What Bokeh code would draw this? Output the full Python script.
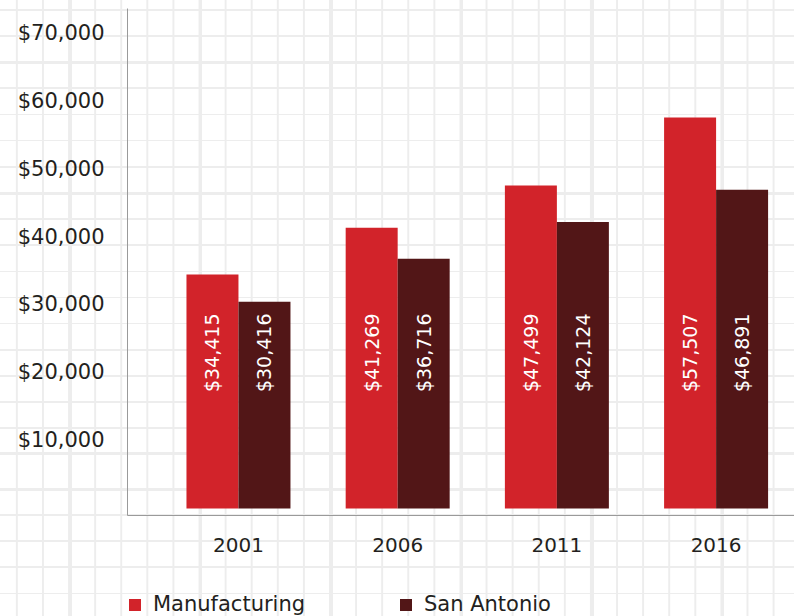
import numpy as np
from bokeh.plotting import figure
from bokeh.layouts import column
from bokeh.models import (Range1d, FixedTicker, Legend, LegendItem, ColumnDataSource,
                          NumeralTickFormatter)
from bokeh.transform import dodge
from bokeh.core.properties import value
from bokeh.embed import file_html
from bokeh.resources import INLINE

# ---- data ----
years = ["2001", "2006", "2011", "2016"]
manufacturing = [34415, 41269, 47499, 57507]
san_antonio = [30416, 36716, 42124, 46891]
series_names = ["Manufacturing", "San Antonio"]
y_ticks = [10000, 20000, 30000, 40000, 50000, 60000, 70000]

# ---- style ----
RED = "#D2232A"
MAROON = "#521617"
FONT = "DejaVu Sans"
TXT = "#231f20"
AXIS = "#9a9a9a"
OFF = 0.1633
BW = 0.3266
LABEL_Y = 22900

x = list(range(len(years)))
src = ColumnDataSource(dict(
    x=x, m=manufacturing, s=san_antonio,
    mlab=[f"${v:,}" for v in manufacturing],
    slab=[f"${v:,}" for v in san_antonio],
))

p = figure(width=794, height=585, output_backend="svg", toolbar_location=None,
           x_range=Range1d(-0.697, 3.4925), y_range=Range1d(-1030, 73530),
           min_border_left=127, min_border_right=0, min_border_top=8,
           min_border_bottom=70)
p.background_fill_color = None
p.border_fill_color = None
p.outline_line_color = None
p.grid.visible = False

r1 = p.vbar(x=dodge("x", -OFF), top="m", width=BW, source=src,
            fill_color=RED, line_color=None)
r2 = p.vbar(x=dodge("x", OFF), top="s", width=BW, source=src,
            fill_color=MAROON, line_color=None)

for col, dx in (("mlab", -OFF), ("slab", OFF)):
    p.text(x=dodge("x", dx), y=LABEL_Y, text=col, source=src, angle=np.pi / 2,
           text_align="center", text_baseline="middle", text_color="#ffffff",
           text_font=value(FONT), text_font_size="19px")

ya = p.yaxis[0]
ya.ticker = FixedTicker(ticks=y_ticks)
ya.formatter = NumeralTickFormatter(format="$0,0")
ya.major_tick_line_color = None
ya.minor_tick_line_color = None
ya.axis_line_color = AXIS
ya.major_label_standoff = 17
ya.major_label_text_font = FONT
ya.major_label_text_font_size = "21px"
ya.major_label_text_color = TXT

xa = p.xaxis[0]
xa.ticker = FixedTicker(ticks=x)
xa.major_label_overrides = {i: y for i, y in zip(x, years)}
xa.major_tick_line_color = None
xa.minor_tick_line_color = None
xa.axis_line_color = AXIS
xa.major_label_standoff = 16
xa.major_label_text_font = FONT
xa.major_label_text_font_size = "20px"
xa.major_label_text_color = TXT

# ---- legend strip (its own small figure below the chart) ----
lg = figure(width=794, height=31, output_backend="svg", toolbar_location=None,
            x_range=Range1d(0, 1), y_range=Range1d(-2, -1),
            x_axis_type=None, y_axis_type=None,
            min_border_left=0, min_border_right=0, min_border_top=0,
            min_border_bottom=0)
lg.background_fill_color = None
lg.border_fill_color = None
lg.outline_line_color = None
lg.grid.visible = False
# same series, kept hidden here: they only supply the legend swatches
k1 = lg.vbar(x="x", top="m", width=BW, source=src, fill_color=RED, line_color=None,
             visible=False)
k2 = lg.vbar(x="x", top="s", width=BW, source=src, fill_color=MAROON, line_color=None,
             visible=False)

legend = Legend(items=[LegendItem(label=series_names[0], renderers=[k1]),
                       LegendItem(label=series_names[1], renderers=[k2])],
                orientation="horizontal", location=(0, 0),
                glyph_width=15, glyph_height=15, label_standoff=11,
                label_width=245, spacing=0, padding=0, margin=0,
                border_line_color=None, background_fill_color=None,
                inactive_fill_alpha=0,
                label_text_font=FONT, label_text_font_size="21px",
                label_text_color=TXT)
lg.add_layout(legend)

layout = column(p, lg, spacing=0)

# ---- graph-paper page background ----
layers, sizes, poss, reps = [], [], [], []
G = "#ededed"
thin_h = f"repeating-linear-gradient(to bottom, {G} 0px, {G} 1.6px, transparent 1.6px, transparent 26.15px)"
layers += [thin_h, thin_h]
sizes += ["100% 470px", "100% 200px"]
poss += ["0 8.5px", "0 488px"]
reps += ["no-repeat", "no-repeat"]
layers.append(f"linear-gradient(to right, {G} 1.6px, transparent 1.6px)")
sizes.append("26.1px 100%")
poss.append("15.9px 0")
reps.append("repeat")
for yy in (61.2, 191.8, 451.8, 487.5):
    layers.append(f"linear-gradient({G}, {G})")
    sizes.append("100% 3px")
    poss.append(f"0 {yy}px")
    reps.append("no-repeat")
for xx in (68.6, 199.1, 329.6, 460.1, 590.6, 721.1):
    layers.append(f"linear-gradient({G}, {G})")
    sizes.append("3px 100%")
    poss.append(f"{xx}px 0")
    reps.append("no-repeat")
css = ("<style>html{background-color:#ffffff;background-image:" + ",".join(layers) +
       ";background-size:" + ",".join(sizes) + ";background-position:" + ",".join(poss) +
       ";background-repeat:" + ",".join(reps) + ";min-height:100%;}body{background:transparent;}</style>")

html = file_html(layout, INLINE)
html = html.replace("</head>", css + "</head>", 1)
open("out.html", "w").write(html)
